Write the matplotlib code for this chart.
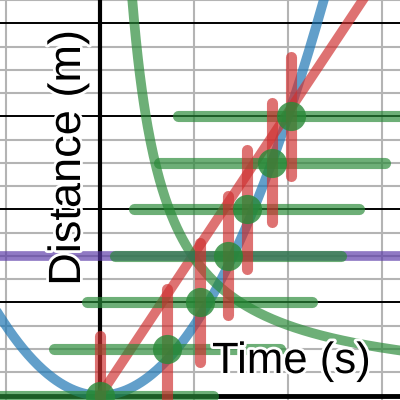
import numpy as np
import matplotlib.pyplot as plt
import matplotlib.patheffects as pe

plt.rcParams['font.family'] = ['Liberation Sans', 'DejaVu Sans']

# === DATA ===
time_pts = [0.0, 0.71, 1.06, 1.36, 1.56, 1.83, 2.03]
dist_pts = [0.0, 0.5, 1.0, 1.5, 2.0, 2.5, 3.0]
time_err = 1.2
dist_err = 0.64

quad_coef = 0.75      # blue: d = a t^2
lin_slope = 1.52      # red: d = v t
inv_coef = 1.45       # green: d = k / t + c
inv_offset = 0.03
ref_level = 1.5       # purple horizontal line

# === COLOURS ===
blue = '#1f77b4'
red = '#cf3030'
green = '#288937'
purple = '#5b3aa8'
alpha = 0.68
lw = 7

fig = plt.figure(figsize=(4, 4), dpi=100)
ax = fig.add_axes([0, 0, 1, 1])
ax.set_xlim(-100 / 94, 300 / 94)
ax.set_ylim(-4.5 / 93.5, 395.5 / 93.5)

# grid
ax.set_xticks([-1, 1, 2, 3])
ax.set_yticks([0, 1, 2, 3, 4])
ax.set_yticks(np.arange(0, 4.5, 0.25), minor=True)
ax.xaxis.grid(True, which='major', color='#b4b4b4', lw=1.5)
ax.yaxis.grid(True, which='major', color='black', lw=1.4)
ax.yaxis.grid(True, which='minor', color='#b4b4b4', lw=1.5)
ax.tick_params(which='both', length=0, labelleft=False, labelbottom=False)
ax.set_axisbelow(True)
for s in ax.spines.values():
    s.set_visible(False)
ax.axvline(0, color='black', lw=3, zorder=1)
ax.axhline(0, color='black', lw=3.5, zorder=1)

# curves
t1 = np.linspace(-1.3, 2.6, 300)
ax.plot(t1, quad_coef * t1 ** 2, color=blue, alpha=0.7, lw=lw)
t2 = np.linspace(0, 3.0, 50)
ax.plot(t2, lin_slope * t2, color=red, alpha=alpha, lw=lw)
t3 = np.linspace(0.3, 3.4, 300)
ax.plot(t3, inv_coef / t3 + inv_offset, color=green, alpha=alpha, lw=lw)
ax.axhline(ref_level, color=purple, alpha=alpha, lw=lw)

# error bars and points
x = np.array(time_pts)
y = np.array(dist_pts)
ax.hlines(y, x - time_err, x + time_err, colors=green, alpha=alpha, lw=8,
          capstyle='round')
ax.vlines(x, y - dist_err, y + dist_err, colors=red, alpha=alpha, lw=8,
          capstyle='round')
ax.plot(x, y, 'o', ms=21, color=green, alpha=0.8, mec='none')

outline = [pe.withStroke(linewidth=4, foreground='white')]
ax.text(0.2, 0.605, 'Distance (m)', transform=ax.transAxes, rotation=90,
        rotation_mode='anchor', ha='center', va='baseline', fontsize=32.5,
        path_effects=outline, zorder=5)
ax.text(0.53, 0.0675, 'Time (s)', transform=ax.transAxes, ha='left',
        va='baseline', fontsize=31.5, path_effects=outline, zorder=5)

fig.savefig('out.png', dpi=100)
